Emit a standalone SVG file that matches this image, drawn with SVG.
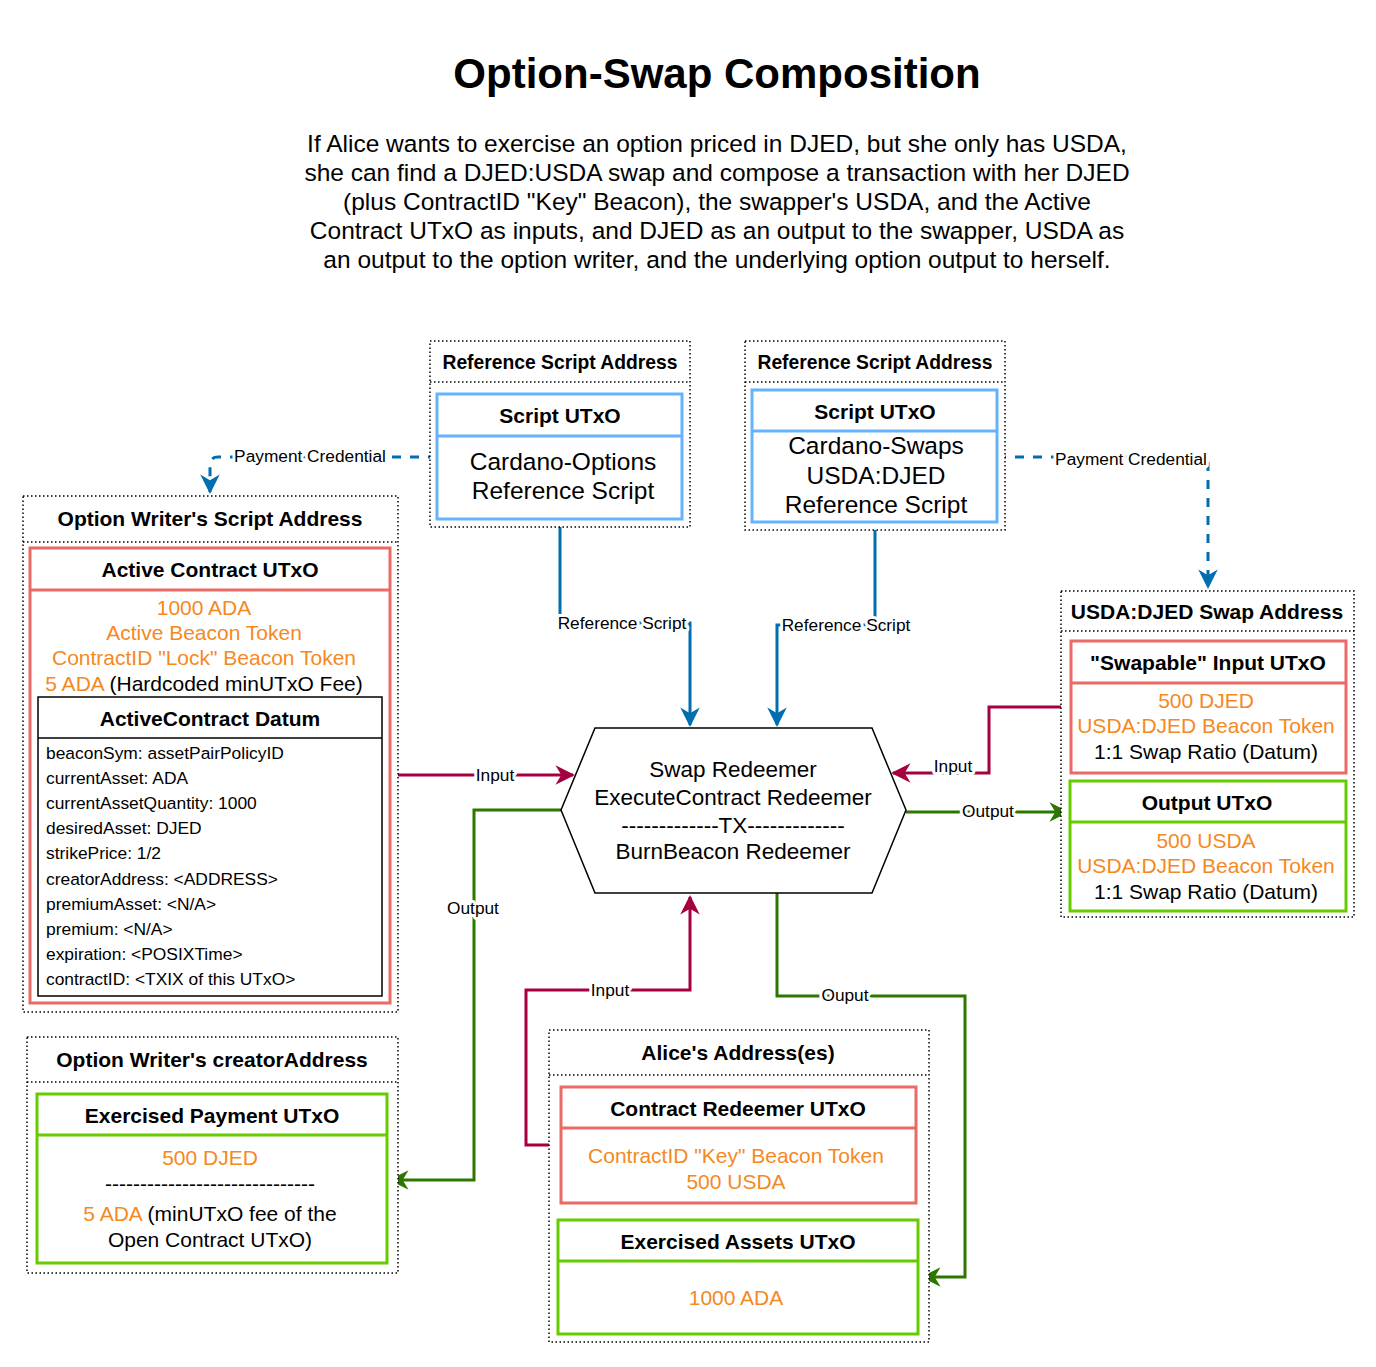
<svg xmlns="http://www.w3.org/2000/svg" width="1376" height="1367" viewBox="0 0 1376 1367">
<style>
text{font-family:"Liberation Sans",Arial,sans-serif;fill:#000;dominant-baseline:central;text-anchor:middle}
.title{font-size:42px;font-weight:bold}
.para{font-size:24.5px}
.addr{font-size:21px;font-weight:bold}
.raddr{font-size:19.3px;font-weight:bold}
.hdr{font-size:21px;font-weight:bold}
.body{font-size:21px}
.big{font-size:24.5px}
.hex{font-size:22.5px}
.or{fill:#F5891F}
.datum{font-size:17.4px;text-anchor:start}
.lbl{font-size:17.3px;stroke:#fff;stroke-width:6;paint-order:stroke;stroke-linejoin:round}
.dot{fill:#fff;stroke:#000;stroke-width:1.5;stroke-dasharray:1.5 2.5}
.dotl{fill:none;stroke:#000;stroke-width:1.5;stroke-dasharray:1.5 2.5}
.red{fill:#fff;stroke:#EA6B66;stroke-width:3}
.green{fill:#fff;stroke:#66CC00;stroke-width:3}
.blue{fill:#fff;stroke:#66B2FF;stroke-width:3}
.blk{fill:#fff;stroke:#000;stroke-width:1.5}
.cb{fill:none;stroke:#006EAF;stroke-width:3}
.cbd{fill:none;stroke:#006EAF;stroke-width:3;stroke-dasharray:9 9}
.cr{fill:none;stroke:#A50040;stroke-width:3}
.cg{fill:none;stroke:#2D7600;stroke-width:3}
</style>
<defs>
<marker id="ab" viewBox="0 0 10 10" refX="9" refY="5" markerWidth="6.5" markerHeight="6.5" markerUnits="strokeWidth" orient="auto"><path d="M0,0 L10,5 L0,10 L3,5 z" fill="#006EAF"/></marker>
<marker id="ar" viewBox="0 0 10 10" refX="9" refY="5" markerWidth="6.5" markerHeight="6.5" markerUnits="strokeWidth" orient="auto"><path d="M0,0 L10,5 L0,10 L3,5 z" fill="#A50040"/></marker>
<marker id="ag" viewBox="0 0 10 10" refX="9" refY="5" markerWidth="6.5" markerHeight="6.5" markerUnits="strokeWidth" orient="auto"><path d="M0,0 L10,5 L0,10 L3,5 z" fill="#2D7600"/></marker>
</defs>
<rect width="1376" height="1367" fill="#fff"/>

<g id="title">
<text class="title" x="717" y="73">Option-Swap Composition</text>
<text class="para" x="717" y="143">If Alice wants to exercise an option priced in DJED, but she only has USDA,</text>
<text class="para" x="717" y="172">she can find a DJED:USDA swap and compose a transaction with her DJED</text>
<text class="para" x="717" y="201">(plus ContractID "Key" Beacon), the swapper's USDA, and the Active</text>
<text class="para" x="717" y="230">Contract UTxO as inputs, and DJED as an output to the swapper, USDA as</text>
<text class="para" x="717" y="259">an output to the option writer, and the underlying option output to herself.</text>
</g>

<g id="connectors">
<path class="cbd" d="M437,457 H218 Q210,457 210,465 V492" marker-end="url(#ab)"/>
<path class="cbd" d="M997,457 H1208 V587" marker-end="url(#ab)"/>
<path class="cb" d="M560,519 V623 H690 V725" marker-end="url(#ab)"/>
<path class="cb" d="M875,522 V625 H777 V725" marker-end="url(#ab)"/>
<path class="cr" d="M390,775 H573" marker-end="url(#ar)"/>
<path class="cg" d="M561,810 H474 V1180 H391" marker-end="url(#ag)"/>
<path class="cr" d="M1071,707 H989 V773 H893" marker-end="url(#ar)"/>
<path class="cg" d="M906,812 H1067" marker-end="url(#ag)"/>
<path class="cr" d="M561,1145 H526 V990 H690 V897" marker-end="url(#ar)"/>
<path class="cg" d="M777,893 V996 H965 V1277 H923" marker-end="url(#ag)"/>
<text class="lbl" x="310" y="456">Payment Credential</text>
<text class="lbl" x="1131" y="459">Payment Credential</text>
<text class="lbl" x="622" y="623">Reference Script</text>
<text class="lbl" x="846" y="625">Reference Script</text>
<text class="lbl" x="495" y="775">Input</text>
<text class="lbl" x="473" y="908">Output</text>
<text class="lbl" x="953" y="766">Input</text>
<text class="lbl" x="988" y="811">Output</text>
<text class="lbl" x="610" y="990">Input</text>
<text class="lbl" x="845" y="995">Ouput</text>
</g>

<g id="ref-script-1">
<rect class="dot" x="430" y="341" width="260" height="186"/>
<line class="dotl" x1="430" y1="382" x2="690" y2="382"/>
<text class="raddr" x="560" y="362">Reference Script Address</text>
<rect class="blue" x="437" y="394" width="245" height="125"/>
<line class="blue" x1="437" y1="436" x2="682" y2="436"/>
<text class="hdr" x="560" y="415">Script UTxO</text>
<text class="big" x="563" y="461">Cardano-Options</text>
<text class="big" x="563" y="490">Reference Script</text>
</g>

<g id="ref-script-2">
<rect class="dot" x="745" y="341" width="260" height="189"/>
<line class="dotl" x1="745" y1="382" x2="1005" y2="382"/>
<text class="raddr" x="875" y="362">Reference Script Address</text>
<rect class="blue" x="752" y="390" width="245" height="132"/>
<line class="blue" x1="752" y1="431" x2="997" y2="431"/>
<text class="hdr" x="875" y="411">Script UTxO</text>
<text class="big" x="876" y="445">Cardano-Swaps</text>
<text class="big" x="876" y="475">USDA:DJED</text>
<text class="big" x="876" y="504">Reference Script</text>
</g>

<g id="option-writer-script-address">
<rect class="dot" x="23" y="496" width="375" height="516"/>
<line class="dotl" x1="23" y1="542" x2="398" y2="542"/>
<text class="addr" x="210" y="518">Option Writer's Script Address</text>
</g>
<g id="active-contract-utxo">
<rect class="red" x="30" y="548" width="360" height="455"/>
<line class="red" x1="30" y1="590" x2="390" y2="590"/>
<text class="hdr" x="210" y="569">Active Contract UTxO</text>
<text class="body or" x="204" y="607">1000 ADA</text>
<text class="body or" x="204" y="632">Active Beacon Token</text>
<text class="body or" x="204" y="657">ContractID "Lock" Beacon Token</text>
<text class="body" x="204" y="683"><tspan class="or">5 ADA</tspan> (Hardcoded minUTxO Fee)</text>
</g>
<g id="active-contract-datum">
<rect class="blk" x="38" y="697" width="344" height="299"/>
<line class="blk" x1="38" y1="738" x2="382" y2="738"/>
<text class="hdr" x="210" y="718">ActiveContract Datum</text>
<text class="datum" x="46" y="753">beaconSym: assetPairPolicyID</text>
<text class="datum" x="46" y="778">currentAsset: ADA</text>
<text class="datum" x="46" y="803">currentAssetQuantity: 1000</text>
<text class="datum" x="46" y="828">desiredAsset: DJED</text>
<text class="datum" x="46" y="853">strikePrice: 1/2</text>
<text class="datum" x="46" y="879">creatorAddress: &lt;ADDRESS&gt;</text>
<text class="datum" x="46" y="904">premiumAsset: &lt;N/A&gt;</text>
<text class="datum" x="46" y="929">premium: &lt;N/A&gt;</text>
<text class="datum" x="46" y="954">expiration: &lt;POSIXTime&gt;</text>
<text class="datum" x="46" y="979">contractID: &lt;TXIX of this UTxO&gt;</text>
</g>

<g id="creator-address">
<rect class="dot" x="27" y="1037" width="371" height="236"/>
<line class="dotl" x1="27" y1="1082" x2="398" y2="1082"/>
<text class="addr" x="212" y="1059">Option Writer's creatorAddress</text>
</g>
<g id="exercised-payment-utxo">
<rect class="green" x="37" y="1094" width="350" height="169"/>
<line class="green" x1="37" y1="1135" x2="387" y2="1135"/>
<text class="hdr" x="212" y="1115">Exercised Payment UTxO</text>
<text class="body or" x="210" y="1157">500 DJED</text>
<text class="body" x="210" y="1183">------------------------------</text>
<text class="body" x="210" y="1213"><tspan class="or">5 ADA</tspan> (minUTxO fee of the</text>
<text class="body" x="210" y="1239">Open Contract UTxO)</text>
</g>

<g id="tx">
<polygon points="561,810 595,728 872,728 906,810 872,893 595,893" fill="#fff" stroke="#000" stroke-width="1.5"/>
<text class="hex" x="733" y="769">Swap Redeemer</text>
<text class="hex" x="733" y="797">ExecuteContract Redeemer</text>
<text class="hex" x="733" y="825">-------------TX-------------</text>
<text class="hex" x="733" y="851">BurnBeacon Redeemer</text>
</g>

<g id="swap-address">
<rect class="dot" x="1061" y="591" width="293" height="326"/>
<line class="dotl" x1="1061" y1="631" x2="1354" y2="631"/>
<text class="addr" x="1207" y="611">USDA:DJED Swap Address</text>
</g>
<g id="swapable-input-utxo">
<rect class="red" x="1071" y="641" width="275" height="132"/>
<line class="red" x1="1071" y1="683" x2="1346" y2="683"/>
<text class="hdr" x="1208" y="662">"Swapable" Input UTxO</text>
<text class="body or" x="1206" y="700">500 DJED</text>
<text class="body or" x="1206" y="725">USDA:DJED Beacon Token</text>
<text class="body" x="1206" y="751">1:1 Swap Ratio (Datum)</text>
</g>
<g id="output-utxo">
<rect class="green" x="1070" y="781" width="276" height="130"/>
<line class="green" x1="1070" y1="822" x2="1346" y2="822"/>
<text class="hdr" x="1207" y="802">Output UTxO</text>
<text class="body or" x="1206" y="840">500 USDA</text>
<text class="body or" x="1206" y="865">USDA:DJED Beacon Token</text>
<text class="body" x="1206" y="891">1:1 Swap Ratio (Datum)</text>
</g>

<g id="alice-address">
<rect class="dot" x="549" y="1030" width="380" height="312"/>
<line class="dotl" x1="549" y1="1075" x2="929" y2="1075"/>
<text class="addr" x="738" y="1052">Alice's Address(es)</text>
</g>
<g id="contract-redeemer-utxo">
<rect class="red" x="561" y="1087" width="355" height="116"/>
<line class="red" x1="561" y1="1128" x2="916" y2="1128"/>
<text class="hdr" x="738" y="1108">Contract Redeemer UTxO</text>
<text class="body or" x="736" y="1155">ContractID "Key" Beacon Token</text>
<text class="body or" x="736" y="1181">500 USDA</text>
</g>
<g id="exercised-assets-utxo">
<rect class="green" x="558" y="1220" width="360" height="114"/>
<line class="green" x1="558" y1="1261" x2="918" y2="1261"/>
<text class="hdr" x="738" y="1241">Exercised Assets UTxO</text>
<text class="body or" x="736" y="1297">1000 ADA</text>
</g>
</svg>
